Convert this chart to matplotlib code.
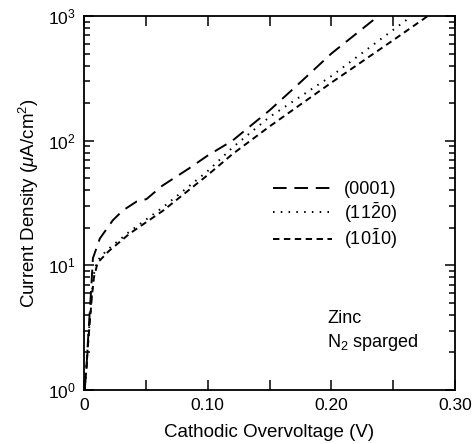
import matplotlib
matplotlib.use("Agg")
import matplotlib.pyplot as plt
from matplotlib.ticker import FixedLocator, LogLocator, NullFormatter, FixedFormatter

plt.rcParams['font.family'] = ['Liberation Sans', 'DejaVu Sans']
plt.rcParams['mathtext.fontset'] = 'custom'
plt.rcParams['mathtext.rm'] = 'Liberation Sans'
plt.rcParams['mathtext.it'] = 'Liberation Sans:italic'
plt.rcParams['mathtext.bf'] = 'Liberation Sans:bold'

# (0001) long dashed
x_0001 = [0.0005, 0.002, 0.003, 0.0045, 0.006, 0.0072, 0.0128, 0.0233, 0.0313, 0.0425,
          0.0505, 0.0634, 0.085, 0.10, 0.12, 0.15, 0.173, 0.20, 0.22, 0.238]
y_0001 = [1.0, 1.5, 2.3, 4.0, 7.0, 11.4, 16.4, 23, 27.5, 32.5,
          34, 43.6, 60, 76, 100, 175, 282, 500, 720, 1000]

# (11-20) dotted
x_1120 = [0.0005, 0.002, 0.0035, 0.005, 0.0065, 0.008, 0.0104, 0.0184, 0.0369, 0.0634,
          0.10, 0.12, 0.15, 0.20, 0.235, 0.265]
y_1120 = [1.0, 1.6, 2.6, 4.0, 6.0, 8.5, 10.8, 13.2, 18.7, 29,
          57, 88, 155, 330, 600, 1000]

# (10-10) short dashed
x_1010 = [0.0005, 0.002, 0.0035, 0.005, 0.0065, 0.008, 0.011, 0.02, 0.037, 0.064,
          0.10, 0.12, 0.15, 0.20, 0.25, 0.278]
y_1010 = [1.0, 1.5, 2.5, 3.8, 5.8, 8.0, 10.5, 13.0, 18.0, 27.5,
          53, 78, 130, 292, 640, 1000]

labels = ['(0001)', r'(11$\mathregular{\bar{2}}$0)', r'(10$\mathregular{\bar{1}}$0)']
x_ticks = [0, 0.05, 0.10, 0.15, 0.20, 0.25, 0.30]
x_ticklabels = ['0', '', '0.10', '', '0.20', '', '0.30']

fig = plt.figure(figsize=(4.73, 4.44), dpi=100)
ax = fig.add_axes([0.1776, 0.1216, 0.7844, 0.8423])

lw = 1.4
l1, = ax.plot(x_0001, y_0001, color='black', lw=lw, linestyle=(0, (7, 4.0)))
l2, = ax.plot(x_1120, y_1120, color='black', lw=lw, linestyle=(0, (0.8, 3.2)))
l3, = ax.plot(x_1010, y_1010, color='black', lw=lw, linestyle=(0, (3.3, 2.3)))

ax.set_yscale('log')
ax.set_xlim(0, 0.30)
ax.set_ylim(1, 1000)

ax.xaxis.set_major_locator(FixedLocator(x_ticks))
ax.xaxis.set_major_formatter(FixedFormatter(x_ticklabels))
ax.yaxis.set_major_locator(LogLocator(base=10, numticks=10))
ax.yaxis.set_minor_locator(LogLocator(base=10, subs=range(2, 10), numticks=10))
ax.yaxis.set_minor_formatter(NullFormatter())

ax.tick_params(which='both', direction='in', top=True, right=True, labelsize=12.5, width=1.1)
ax.tick_params(which='major', length=7, pad=6)
ax.tick_params(which='minor', length=4.5)
for s in ax.spines.values():
    s.set_linewidth(1.3)

ax.set_xlabel('Cathodic Overvoltage (V)', fontsize=13.5, labelpad=8)
ax.set_ylabel(r'Current Density ($\mu$A/cm$^2$)', fontsize=13.5, labelpad=5)

ax.legend([l1, l2, l3], labels, loc='upper left', bbox_to_anchor=(0.49, 0.577),
          frameon=False, fontsize=13, handlelength=3.25, handletextpad=0.7,
          labelspacing=0.1, borderaxespad=0)

ax.text(0.655, 0.1925, 'Zinc', transform=ax.transAxes, fontsize=13, va='center')
ax.text(0.655, 0.126, r'N$_2$ sparged', transform=ax.transAxes, fontsize=13, va='center')

fig.savefig('out.png', dpi=100)
